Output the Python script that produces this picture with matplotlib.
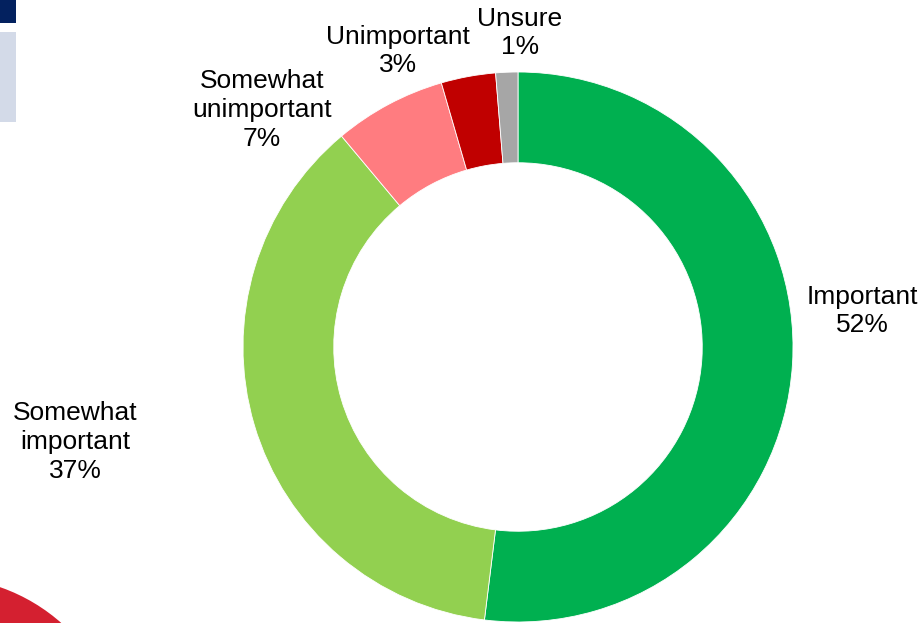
import matplotlib
matplotlib.use('Agg')
import matplotlib.pyplot as plt
from matplotlib.patches import Rectangle, Circle

plt.rcParams['font.family'] = ['Liberation Sans', 'DejaVu Sans']

# Datos del gráfico
categorias = ['Important', 'Somewhat\nimportant', 'Somewhat\nunimportant', 'Unimportant', 'Unsure']
valores = [52.0, 37.0, 6.6, 3.2, 1.3]
etiquetas_pct = ['52%', '37%', '7%', '3%', '1%']
colores = ['#00B050', '#92D050', '#FF7C80', '#C00000', '#A6A6A6']

W, H = 920, 623
cx, cy, R = 518, 347, 275  # centro y radio del anillo en píxeles

fig = plt.figure(figsize=(W / 100, H / 100), dpi=100)
ax = fig.add_axes([0, 0, 1, 1])

# Decoración de la plantilla
fig.add_artist(Rectangle((0, 1 - 23 / H), 16 / W, 23 / H, transform=fig.transFigure,
                         color='#03215F', lw=0))
fig.add_artist(Rectangle((0, 1 - 122 / H), 16 / W, 90 / H, transform=fig.transFigure,
                         color='#D3DAE8', lw=0))
ax.add_patch(Circle(((-60 - cx) / R, (cy - 760) / R), 183 / R, color='#D42030', lw=0))

ax.pie(valores, colors=colores, startangle=90, counterclock=False,
       radius=1, center=(0, 0), frame=True, normalize=True,
       wedgeprops=dict(width=0.33, edgecolor='white', linewidth=0.6))
ax.set_xlim(-cx / R, (W - cx) / R)
ax.set_ylim(-(H - cy) / R, cy / R)
ax.axis('off')

# Posiciones de las etiquetas (en píxeles)
pos_etiquetas = [(862, 311), (75, 442), (262, 110), (398, 51), (520, 33)]
for cat, pct, (px, py) in zip(categorias, etiquetas_pct, pos_etiquetas):
    ax.text((px - cx) / R, (cy - py) / R, f'{cat}\n{pct}', ha='center', va='center',
            fontsize=19, color='#000000', linespacing=1.25)

fig.savefig('out.png', dpi=100)
